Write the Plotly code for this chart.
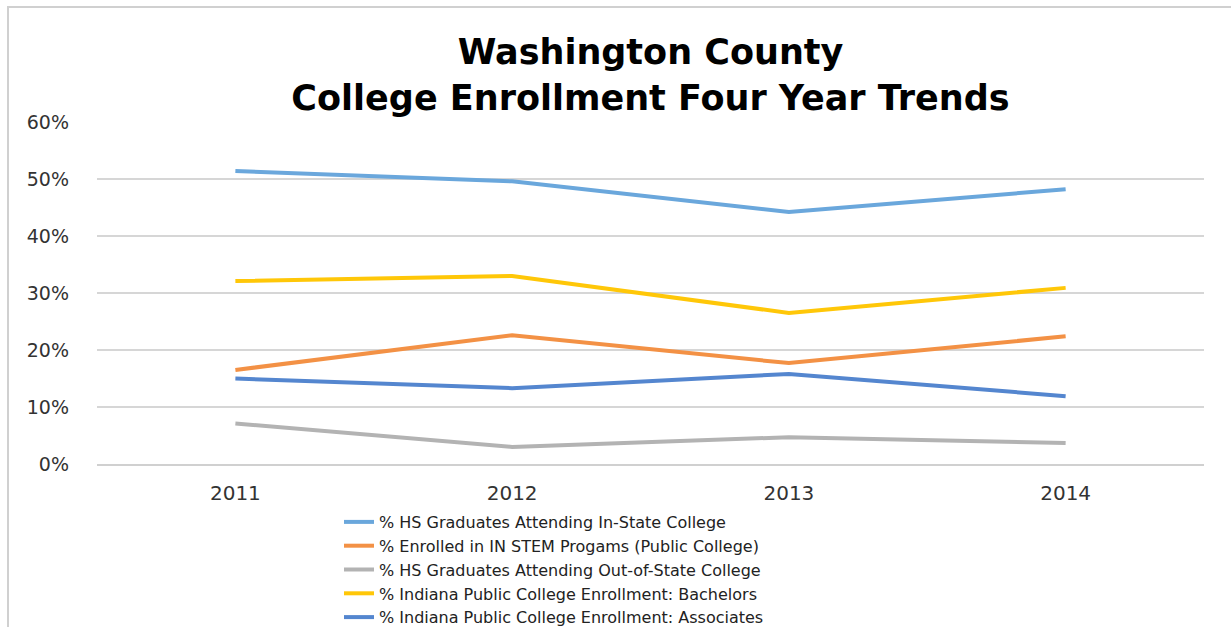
import plotly.graph_objects as go

years = ["2011", "2012", "2013", "2014"]
series_names = [
    "% HS Graduates Attending In-State College",
    "% Enrolled in IN STEM Progams (Public College)",
    "% HS Graduates Attending Out-of-State College",
    "% Indiana Public College Enrollment: Bachelors",
    "% Indiana Public College Enrollment: Associates",
]
in_state = [0.514, 0.496, 0.442, 0.482]
stem = [0.165, 0.226, 0.177, 0.224]
out_state = [0.071, 0.030, 0.047, 0.037]
bachelors = [0.321, 0.330, 0.265, 0.309]
associates = [0.150, 0.133, 0.158, 0.119]
y_ticks = [0, 0.1, 0.2, 0.3, 0.4, 0.5, 0.6]

colors = ["#6AA7DC", "#F39145", "#B3B3B3", "#FFC708", "#5486CF"]
values = [in_state, stem, out_state, bachelors, associates]

W, H = 1231, 627
L, R, T, B = 97, 27, 122, 163
FONT = "DejaVu Sans"

fig = go.Figure()
for name, vals, c in zip(series_names, values, colors):
    fig.add_trace(go.Scatter(x=years, y=vals, mode="lines", name=name,
                             line=dict(color=c, width=4)))

pw = W - L - R
ph = H - T - B

def px_x(x):
    return (x - L) / pw

def px_y(y):
    return (H - B - y) / ph

fig.add_shape(type="rect", xref="paper", yref="paper",
              x0=px_x(8), x1=px_x(1232), y0=px_y(640), y1=px_y(7),
              line=dict(color="#D0D0D0", width=2), layer="below")

fig.update_layout(
    width=W, height=H,
    margin=dict(l=L, r=R, t=T, b=B, autoexpand=False),
    paper_bgcolor="white", plot_bgcolor="white",
    font=dict(family=FONT, color="#333333", size=18),
    title=dict(text="<b>Washington County<br>College Enrollment Four Year Trends</b>",
               x=0.5, xanchor="center", xref="paper",
               y=1 - 64 / H, yanchor="middle", yref="container",
               font=dict(family=FONT, size=35, color="#000000")),
    xaxis=dict(showgrid=False, showline=True, linecolor="#D0D0D0", linewidth=1.5,
               range=[-0.5, 3.5], ticks="", tickfont=dict(size=20),
               ticklabelstandoff=10),
    yaxis=dict(range=[0, 0.6], tickvals=y_ticks, tickformat=".0%",
               showgrid=True, gridcolor="#D6D6D6", gridwidth=1.5,
               zeroline=False, showline=False, ticks="",
               tickfont=dict(size=19), ticklabelstandoff=27),
    legend=dict(x=px_x(339), xanchor="left", y=px_y(505), yanchor="top",
                font=dict(size=16, color="#222222"), tracegroupgap=0,
                bgcolor="rgba(0,0,0,0)", itemwidth=30),
    showlegend=True,
)

fig.write_html("out.html", config={"displayModeBar": False},
               post_script="document.body.style.margin='0';")
